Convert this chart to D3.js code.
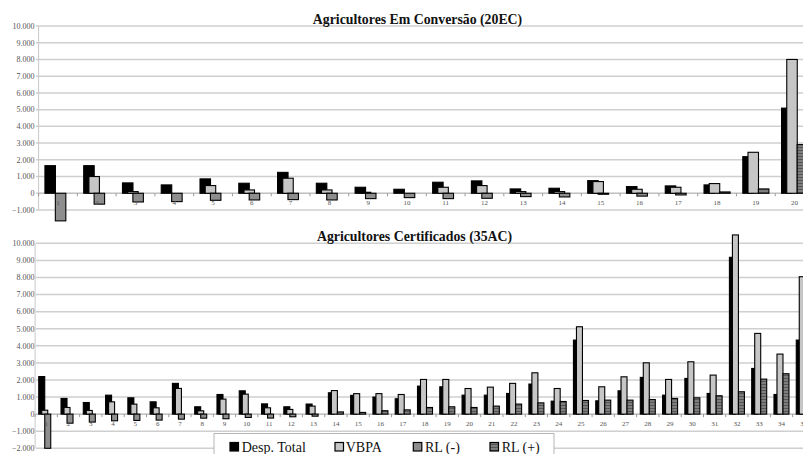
<!DOCTYPE html>
<html><head><meta charset="utf-8">
<script src="https://cdn.jsdelivr.net/npm/d3@7"></script>
<style>html,body{margin:0;padding:0;background:#fff;}svg{display:block;}</style>
</head><body>
<svg id="chart" width="803" height="454"></svg>
<script>
const seriesNames = ["Desp. Total", "VBPA", "RL (-)", "RL (+)"];
const yTicksTop = [-1000, 0, 1000, 2000, 3000, 4000, 5000, 6000, 7000, 8000, 9000, 10000];
const yTicksBottom = [-2000, -1000, 0, 1000, 2000, 3000, 4000, 5000, 6000, 7000, 8000, 9000, 10000];

// Agricultores Em Conversão (20EC)
const catsTop = d3.range(1, 21).map(String);
const despTop = [1650, 1650, 620, 500, 860, 600, 1250, 600, 360, 240, 660, 740, 260, 300, 755, 400, 440, 500, 2190, 5090];
const vbpaTop = [0, 1000, 100, 0, 460, 200, 900, 200, 60, 0, 360, 460, 100, 100, 700, 240, 360, 580, 2450, 8000];
const rlNegTop = [-1650, -650, -520, -500, -420, -400, -380, -400, -320, -260, -320, -300, -200, -220, -60, -170, -100, 0, 0, 0];
const rlPosTop = [0, 0, 0, 0, 0, 0, 0, 0, 0, 0, 0, 0, 0, 0, 0, 0, 0, 80, 260, 2910];

// Agricultores Certificados (35AC)
const catsBottom = d3.range(1, 36).map(String);
const despBottom = [2200, 920, 680, 1110, 955, 720, 1800, 430, 1150, 1365, 600, 430, 590, 1250, 1100, 1000, 900, 1640, 1600, 1110, 1110, 1210, 1760, 760, 4335, 780, 1365, 2150, 1110, 2090, 1210, 9180, 2675, 1150, 4335];
const vbpaBottom = [230, 390, 215, 720, 585, 370, 1505, 195, 880, 1170, 370, 275, 470, 1380, 1200, 1200, 1150, 2030, 2030, 1500, 1580, 1800, 2420, 1500, 5115, 1600, 2185, 3005, 2030, 3065, 2285, 10490, 4725, 3515, 8045];
const rlNegBottom = [-2000, -530, -465, -390, -370, -350, -295, -235, -270, -195, -230, -155, -120, 0, 0, 0, 0, 0, 0, 0, 0, 0, 0, 0, 0, 0, 0, 0, 0, 0, 0, 0, 0, 0, 0];
const rlPosBottom = [0, 0, 0, 0, 0, 0, 0, 0, 0, 0, 0, 0, 0, 130, 100, 200, 250, 390, 430, 390, 470, 590, 660, 740, 800, 820, 820, 855, 920, 955, 1075, 1310, 2050, 2365, 3710];

const svg = d3.select("#chart");
const FONT = "'Liberation Serif', 'Times New Roman', serif";

const defs = svg.append("defs");
const pat = defs.append("pattern").attr("id", "rlpos").attr("patternUnits", "userSpaceOnUse")
  .attr("width", 4).attr("height", 3);
pat.append("rect").attr("width", 4).attr("height", 3).attr("fill", "#7e7e7e");
pat.append("rect").attr("width", 4).attr("height", 1).attr("fill", "#555");

const fills = ["#000000", "#c6c6c6", "#8e8e8e", "url(#rlpos)"];
const fmt = v => d3.format(",")(v).replace(/,/g, ".");

function panel(opts) {
  const {cats, series, title, titleX, titleY, yDomain, yRange, xRange, d, w, ticks, gridX0} = opts;
  const g = svg.append("g");
  const y = d3.scaleLinear().domain(yDomain).range(yRange);
  const xb = d3.scaleBand().domain(cats).range(xRange).padding(0);
  const xs = d3.scalePoint().domain(seriesNames).range([0, 3 * d]);
  const gw = 3 * d + w;

  g.selectAll(".grid").data(ticks).join("line")
    .attr("x1", gridX0).attr("x2", 803)
    .attr("y1", t => y(t)).attr("y2", t => y(t))
    .attr("stroke", "#cfcfcf").attr("stroke-width", 1.5);

  g.selectAll(".ylab").data(ticks).join("text")
    .attr("x", gridX0 - 1.5).attr("y", t => y(t) + 2.8)
    .attr("text-anchor", "end").attr("font-family", FONT).attr("font-size", 8)
    .attr("fill", "#555").text(fmt);

  g.append("line").attr("x1", xRange[0]).attr("x2", xRange[0])
    .attr("y1", y(ticks[ticks.length - 1])).attr("y2", y(ticks[0]))
    .attr("stroke", "#c8c8c8").attr("stroke-width", 1);

  g.append("line").attr("x1", xRange[0]).attr("x2", 803)
    .attr("y1", y(0)).attr("y2", y(0)).attr("stroke", "#bdbdbd").attr("stroke-width", 1);
  g.selectAll(".xt").data(cats).join("line")
    .attr("x1", c => xb(c)).attr("x2", c => xb(c))
    .attr("y1", y(0)).attr("y2", y(0) + 3).attr("stroke", "#999");

  series.forEach((vals, si) => {
    const name = seriesNames[si];
    const data = cats.map((c, i) => ({c, v: vals[i]})).filter(o => o.v !== 0);
    g.selectAll(".b" + si).data(data).join("rect")
      .attr("x", o => xb(o.c) + xb.bandwidth() / 2 - gw / 2 + xs(name))
      .attr("width", w)
      .attr("y", o => y(Math.max(0, o.v)))
      .attr("height", o => Math.abs(y(o.v) - y(0)))
      .attr("fill", fills[si]).attr("stroke", "#000").attr("stroke-width", 1.1);
  });

  g.selectAll(".xlab").data(cats).join("text")
    .attr("x", c => xb(c) + xb.bandwidth() / 2).attr("y", y(0) + 12)
    .attr("text-anchor", "middle").attr("font-family", FONT).attr("font-size", 7)
    .attr("fill", "#555").text(c => c);

  g.append("text").attr("x", titleX).attr("y", titleY).attr("text-anchor", "middle")
    .attr("font-family", FONT).attr("font-size", opts.titleSize).attr("font-weight", "bold")
    .attr("fill", "#111").text(title);
}

panel({
  cats: catsTop, series: [despTop, vbpaTop, rlNegTop, rlPosTop],
  title: "Agricultores Em Conversão (20EC)", titleX: 417.5, titleY: 23.5, titleSize: 13.8,
  yDomain: [-1000, 10000], yRange: [210, 26], xRange: [38.6, 814], d: 5.2, w: 10.5,
  ticks: yTicksTop, gridX0: 36
});

panel({
  cats: catsBottom, series: [despBottom, vbpaBottom, rlNegBottom, rlPosBottom],
  title: "Agricultores Certificados (35AC)", titleX: 414.5, titleY: 241, titleSize: 13.8,
  yDomain: [-2000, 10000], yRange: [448.3, 243.3], xRange: [35.1, 814.9], d: 3, w: 6,
  ticks: yTicksBottom, gridX0: 36
});

const lg = svg.append("g");
lg.append("rect").attr("x", 214).attr("y", 433.5).attr("width", 340).attr("height", 30)
  .attr("fill", "#fff").attr("stroke", "#b5b5b5").attr("stroke-width", 1);
const legendSquares = [230, 335, 413.3, 490];
const legendTexts = [241.7, 345.7, 425, 501.7];
seriesNames.forEach((n, i) => {
  lg.append("rect").attr("x", legendSquares[i]).attr("y", 442.5).attr("width", 8.5).attr("height", 8.5)
    .attr("fill", fills[i]).attr("stroke", "#000").attr("stroke-width", 1.2);
  lg.append("text").attr("x", legendTexts[i]).attr("y", 451.5)
    .attr("font-family", FONT).attr("font-size", 14).attr("fill", "#111").text(n);
});
</script>
</body></html>
